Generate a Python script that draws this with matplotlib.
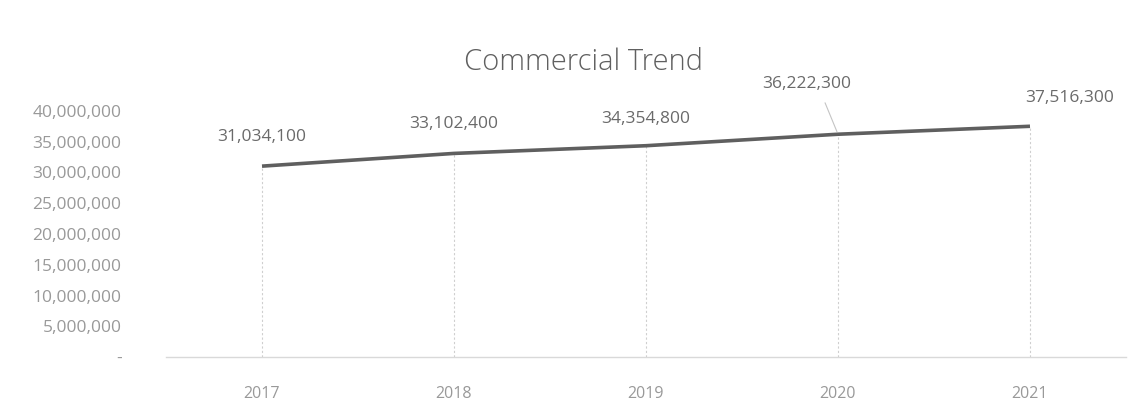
import numpy as np
import matplotlib
matplotlib.use('Agg')
import matplotlib.pyplot as plt
from matplotlib.ticker import FuncFormatter

years = ['2017', '2018', '2019', '2020', '2021']
values = [31034100, 33102400, 34354800, 36222300, 37516300]
y_ticks = [0, 5000000, 10000000, 15000000, 20000000, 25000000, 30000000, 35000000, 40000000]

plt.rcParams['font.family'] = ['Open Sans', 'DejaVu Sans']

fig = plt.figure(figsize=(11.37, 4.01), dpi=100)
ax = fig.add_axes([166 / 1137, 44 / 401, 960 / 1137, 246 / 401])

x = np.arange(len(years))
ax.plot(x, values, color='#5f5f5f', linewidth=2.6, solid_capstyle='butt', zorder=3)

# drop lines from each point to the axis
ax.vlines(x, 0, values, colors='#cfcfcf', linestyles=(0, (2, 2)), linewidth=0.8, zorder=1)

ax.set_xlim(-0.5, len(years) - 0.5)
ax.set_ylim(0, 40000000)
ax.set_xticks(x)
ax.set_xticklabels(years)
ax.set_yticks(y_ticks)
ax.yaxis.set_major_formatter(FuncFormatter(lambda v, p: '-' if v == 0 else f'{int(v):,}'))

for s in ['top', 'right', 'left']:
    ax.spines[s].set_visible(False)
ax.spines['bottom'].set_color('#d9d9d9')
ax.spines['bottom'].set_linewidth(1.0)
ax.tick_params(axis='both', length=0, colors='#999999')
ax.tick_params(axis='x', pad=21, labelsize=11.5)
ax.tick_params(axis='y', pad=32, labelsize=12.5)

# data labels (offsets in pixels, as placed in the source chart)
offsets = [(0, 29), (0, 29), (0, 27), (-31, 50), (40, 28)]
for xi, v, (dx, dy) in zip(x, values, offsets):
    ax.annotate(f'{v:,}', (xi, v), xytext=(dx * 0.72, dy * 0.72), textcoords='offset points',
                ha='center', va='center', fontsize=12.5, color='#6a6a6a')

# leader line for the 2020 label
ax.annotate('', (3, values[3]), xytext=(-14 * 0.72, 34 * 0.72), textcoords='offset points',
            arrowprops=dict(arrowstyle='-', color='#c4c4c4', linewidth=0.8))

fig.text(584 / 1137, 1 - 62 / 401, 'Commercial Trend', ha='center', va='center',
         fontsize=21, color='#606060', fontweight='light')

fig.savefig('out.png', dpi=100, facecolor='white')
